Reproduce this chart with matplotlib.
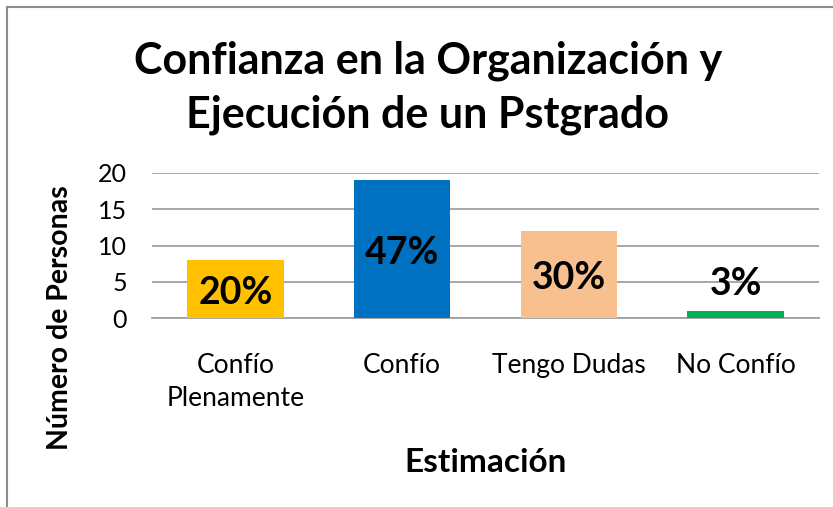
import matplotlib.pyplot as plt
from matplotlib.patches import Rectangle

categorias = ["Confío\nPlenamente", "Confío", "Tengo Dudas", "No Confío"]
personas = [8, 19, 12, 1]
porcentajes = ["20%", "47%", "30%", "3%"]
colores = ["#FFC000", "#0070C0", "#F9C08F", "#00B050"]

plt.rcParams['font.family'] = ['Lato', 'DejaVu Sans']

fig = plt.figure(figsize=(8.33, 5.07), dpi=100)
ax = fig.add_axes([152 / 833, 1 - 318 / 507, 667 / 833, 145 / 507])

# marco gris del grafico (recortado a la derecha y abajo)
fig.patches.append(Rectangle((7 / 833, -0.05), 1.1, 1.05 - 7 / 507, transform=fig.transFigure,
                             fill=False, edgecolor="#8c8c8c", linewidth=1.5))

x = range(len(categorias))
bars = ax.bar(x, personas, width=0.58, color=colores, zorder=3)

# etiquetas de porcentaje
for i, (b, p) in enumerate(zip(bars, porcentajes)):
    if personas[i] >= 5:
        ax.text(b.get_x() + b.get_width() / 2, personas[i] / 2 - 0.5, p, ha="center", va="center",
                fontsize=27, fontweight="bold", zorder=4)
    else:
        ax.annotate(p, (b.get_x() + b.get_width() / 2, personas[i]), xytext=(0, 19),
                    textcoords="offset points", ha="center", va="center",
                    fontsize=27, fontweight="bold", zorder=4)

ax.set_xlim(-0.5, 3.5)
ax.set_ylim(0, 20)
ax.set_yticks([0, 5, 10, 15, 20])
ax.set_xticks(list(x))
ax.set_xticklabels(categorias, fontsize=19, linespacing=1.4)
ax.tick_params(axis="y", length=0, pad=18, labelsize=18)
ax.tick_params(axis="x", length=0, pad=25)
ax.yaxis.grid(True, color="#a0a0a0", linewidth=1.3, zorder=0)
for s in ["top", "right", "left"]:
    ax.spines[s].set_visible(False)
ax.spines["bottom"].set_color("#a0a0a0")
ax.spines["bottom"].set_linewidth(1.3)

ax.set_ylabel("Número de Personas", fontsize=20.5, fontweight="bold")
ax.yaxis.set_label_coords(-0.118, 0.0)
ax.set_xlabel("Estimación", fontsize=24, fontweight="bold", labelpad=27)

fig.text(428 / 833, 1 - 88 / 507, "Confianza en la Organización y\nEjecución de un Pstgrado",
         ha="center", va="center", fontsize=31, fontweight="bold", linespacing=1.42)

fig.savefig("out.png", dpi=100)
